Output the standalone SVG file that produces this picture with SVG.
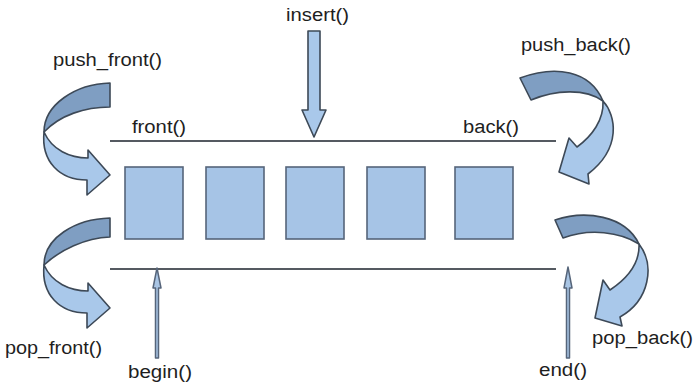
<svg xmlns="http://www.w3.org/2000/svg" width="700" height="391" viewBox="0 0 700 391">
<style>
.box{fill:#a6c4e6;stroke:#56657a;stroke-width:1.6}
.rail{stroke:#555a61;stroke-width:2;fill:none}
.lbl{font-family:"Liberation Sans",Arial,sans-serif;font-size:18px;fill:#1e1e1e}
.dark{fill:#7f9ec2;stroke:#3d4957;stroke-width:1.6;stroke-linejoin:round}
.light{fill:#a9c8ea;stroke:#3d4957;stroke-width:1.6;stroke-linejoin:round}
.thin{fill:#a9c5e4;stroke:#56657a;stroke-width:1.5;stroke-linejoin:round}
</style>
<rect width="700" height="391" fill="#ffffff"/>
<g id="rails">
<line class="rail" x1="110" y1="141" x2="556" y2="141"/>
<line class="rail" x1="110" y1="269" x2="556" y2="269"/>
</g>
<g id="elem1"><rect class="box" x="125" y="167" width="58" height="72"/></g>
<g id="elem2"><rect class="box" x="206" y="167" width="58" height="72"/></g>
<g id="elem3"><rect class="box" x="286" y="167" width="58" height="72"/></g>
<g id="elem4"><rect class="box" x="367" y="167" width="58" height="72"/></g>
<g id="elem5"><rect class="box" x="455" y="167" width="58" height="72"/></g>
<g id="connectors">
<g id="push_front_arrow">
<path class="light" d="M44,132 C41,162 60,180 87,180 L87,195 L110,175 L88,150 L88,158 C70,158 52,150 44,132 Z"/>
<path class="dark" d="M110,83 C75,84 44,105 44,132 C60,115 85,107 110,107 Z"/>
</g>
<g id="pop_front_arrow" transform="translate(0,133)">
<path class="light" d="M44,132 C41,162 60,180 87,180 L87,195 L110,175 L88,150 L88,158 C70,158 52,150 44,132 Z"/>
<path class="dark" d="M110,85 C75,86 44,105 44,132 C60,117 85,105 110,104 Z"/>
</g>
<g id="push_back_arrow">
<path class="light" d="M603,101 C616,115 622,148 588,174 L589,184 L559,172 L569,138 L577,147 C592,136 604,120 603,101 Z"/>
<path class="dark" d="M520,78 C555,65 590,70 603,101 C585,88 555,90 531,100 Z"/>
</g>
<g id="pop_back_arrow">
<path class="light" d="M639,244 C655,265 650,300 620,317 L622,326 L595,318 L603,280 L610,290 C625,280 640,265 639,244 Z"/>
<path class="dark" d="M555,220 C585,210 625,215 639,244 C620,232 590,228 563,238 Z"/>
</g>
<g id="insert_arrow">
<path class="light" d="M308,31 L320,31 L320,110 L326,110 L314,137 L302,110 L308,110 Z"/>
</g>
<g id="begin_arrow">
<path class="thin" d="M155.5,358 L158.5,358 L158.5,288 L161,288 L157,268 L153,288 L155.5,288 Z"/>
</g>
<g id="end_arrow">
<path class="thin" d="M566.5,358 L569.5,358 L569.5,288 L572,288 L568,267 L564,288 L566.5,288 Z"/>
</g>
</g>
<g id="labels">
<text class="lbl" x="286" y="21" textLength="63" lengthAdjust="spacingAndGlyphs">insert()</text>
<text class="lbl" x="53" y="66" textLength="109" lengthAdjust="spacingAndGlyphs">push_front()</text>
<text class="lbl" x="521" y="51" textLength="110" lengthAdjust="spacingAndGlyphs">push_back()</text>
<text class="lbl" x="132" y="133" textLength="54" lengthAdjust="spacingAndGlyphs">front()</text>
<text class="lbl" x="463" y="133" textLength="56" lengthAdjust="spacingAndGlyphs">back()</text>
<text class="lbl" x="5" y="354" textLength="97" lengthAdjust="spacingAndGlyphs">pop_front()</text>
<text class="lbl" x="128" y="378" textLength="64" lengthAdjust="spacingAndGlyphs">begin()</text>
<text class="lbl" x="539" y="376" textLength="48" lengthAdjust="spacingAndGlyphs">end()</text>
<text class="lbl" x="592" y="344" textLength="101" lengthAdjust="spacingAndGlyphs">pop_back()</text>
</g>
</svg>
